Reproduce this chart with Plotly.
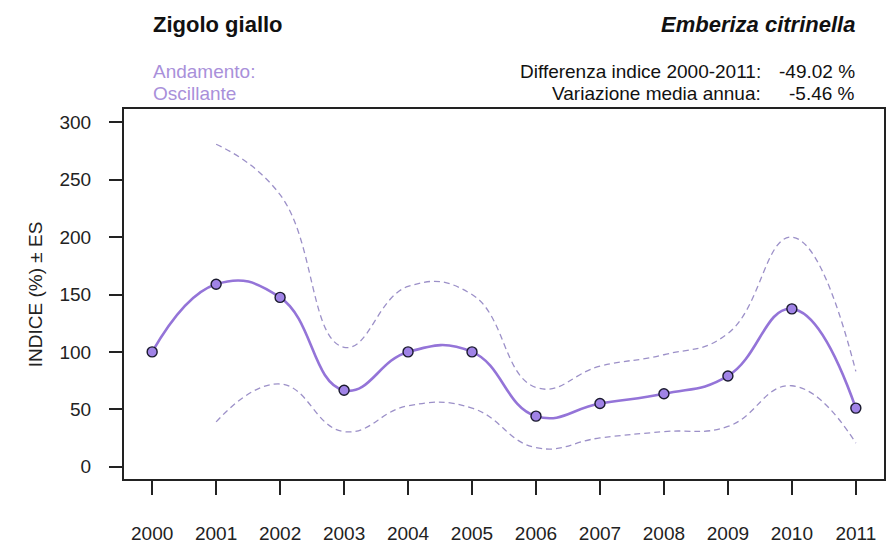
import plotly.graph_objects as go

# ---- data ----
years = [2000, 2001, 2002, 2003, 2004, 2005, 2006, 2007, 2008, 2009, 2010, 2011]
index_vals = [100, 159, 147.5, 66.5, 100, 100, 44, 55, 63.5, 79, 137.5, 51]
es_years = [2001, 2002, 2003, 2004, 2005, 2006, 2007, 2008, 2009, 2010, 2011]
upper_vals = [281, 237, 104, 157, 150, 69, 87.5, 97.5, 116, 200, 83]
lower_vals = [39, 72, 30.5, 53, 51, 16.5, 25, 30.5, 35, 70.5, 20.5]
y_ticks = [0, 50, 100, 150, 200, 250, 300]

title_left = "Zigolo giallo"
title_right = "Emberiza citrinella"
trend_label = "Andamento:"
trend_value = "Oscillante"
diff_label = "Differenza indice 2000-2011:"
diff_value = "-49.02 %"
var_label = "Variazione media annua:"
var_value = "-5.46 %"
y_title = "INDICE (%) ± ES"

# ---- styling ----
W, H = 892, 550
L, R, T, B = 124, 6, 109, 63
PW, PH = W - L - R, H - T - B
FONT = "Liberation Sans, Arial, sans-serif"
LINE_C = "#9474d8"
FILL_C = "#a083e6"
DASH_C = "#9c90c8"
TXT_PURPLE = "#a990da"
AX_C = "#222222"


def px(x):
    return (x - L) / PW


def py(y):
    return (H - B - y) / PH


fig = go.Figure()

for vals in (upper_vals, lower_vals):
    fig.add_trace(go.Scatter(
        x=es_years, y=vals, mode="lines",
        line=dict(color=DASH_C, width=1.3, dash="6px,4px", shape="spline", smoothing=1.3),
        hoverinfo="skip", showlegend=False,
    ))

fig.add_trace(go.Scatter(
    x=years, y=index_vals, mode="lines",
    line=dict(color=LINE_C, width=2.6, shape="spline", smoothing=1.3),
    showlegend=False,
))
fig.add_trace(go.Scatter(
    x=years, y=index_vals, mode="markers",
    marker=dict(size=10, color=FILL_C, line=dict(color="#1a1a2e", width=1.4)),
    showlegend=False,
))

ann = []


def add_text(text, x, y, xanchor, size, color="#111111", bold=False, italic=False):
    t = text
    if bold:
        t = "<b>" + t + "</b>"
    if italic:
        t = "<i>" + t + "</i>"
    ann.append(dict(text=t, x=px(x), y=py(y), xref="paper", yref="paper",
                    xanchor=xanchor, yanchor="middle", showarrow=False,
                    font=dict(family=FONT, size=size, color=color)))


add_text(title_left, 151, 23, "left", 22, bold=True)
add_text(title_right, 859, 23, "right", 22, bold=True, italic=True)
add_text(trend_label, 151, 71, "left", 19, color=TXT_PURPLE)
add_text(trend_value, 151, 93, "left", 19, color=TXT_PURPLE)
add_text(diff_label, 765, 71, "right", 19)
add_text(diff_value, 859, 71, "right", 19)
add_text(var_label, 765, 93, "right", 19)
add_text(var_value, 859, 93, "right", 19)

ann.append(dict(text=y_title, x=px(35), y=py(298), xref="paper", yref="paper",
                xanchor="center", yanchor="middle", showarrow=False, textangle=-90,
                font=dict(family=FONT, size=19, color="#222222")))

fig.update_layout(
    width=W, height=H,
    margin=dict(l=L, r=R, t=T, b=B),
    paper_bgcolor="white", plot_bgcolor="white",
    annotations=ann,
    showlegend=False,
    xaxis=dict(
        range=[1999.56, 2011.44], tickmode="array", tickvals=years,
        ticktext=[str(y) for y in years],
        showgrid=False, zeroline=False,
        showline=True, linecolor=AX_C, linewidth=2, mirror=True,
        ticks="outside", ticklen=14, tickwidth=1.5, tickcolor=AX_C,
        ticklabelstandoff=22,
        tickfont=dict(family=FONT, size=19, color="#222222"),
    ),
    yaxis=dict(
        range=[-10.8, 311.7], tickmode="array", tickvals=y_ticks,
        showgrid=False, zeroline=False,
        showline=True, linecolor=AX_C, linewidth=2, mirror=True,
        ticks="outside", ticklen=13, tickwidth=1.5, tickcolor=AX_C,
        ticklabelstandoff=14,
        tickfont=dict(family=FONT, size=19, color="#222222"),
    ),
)

fig.write_html("out.html")
